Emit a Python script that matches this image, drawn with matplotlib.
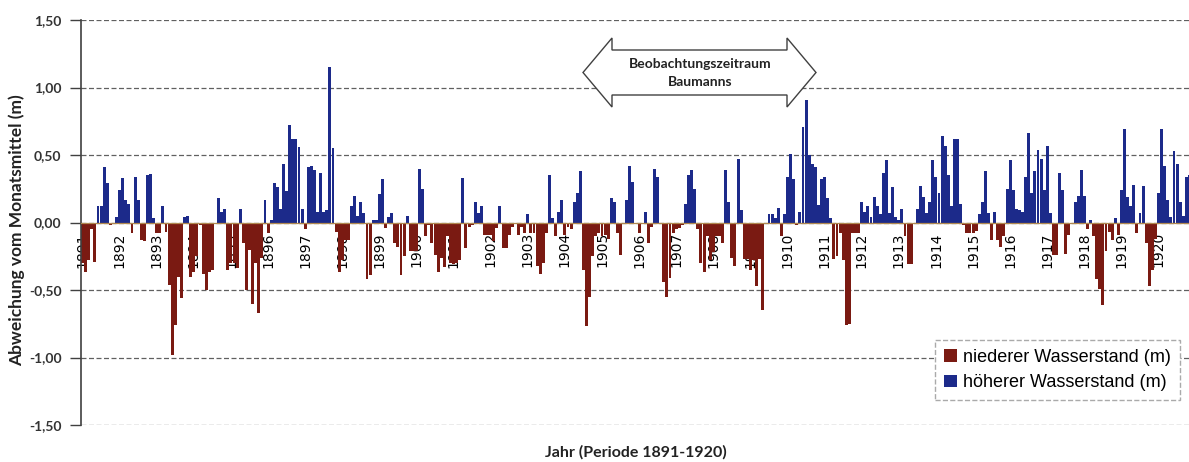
import numpy as np
import matplotlib.pyplot as plt
from matplotlib.patches import Polygon
from matplotlib.ticker import FuncFormatter

# monthly deviation from the monthly mean (m), Jan 1891 - Dec 1920
dev_1891_1900 = [
    -0.30, -0.37, -0.28, -0.05, -0.29, 0.12, 0.12, 0.41, 0.29, -0.02, 0.00, 0.04,
    0.24, 0.33, 0.17, 0.14, -0.08, 0.34, 0.17, -0.13, -0.14, 0.35, 0.36, 0.03,
    -0.08, -0.08, 0.12, -0.07, -0.46, -0.98, -0.76, -0.40, -0.56, 0.04, 0.05, -0.40,
    -0.37, -0.25, -0.02, -0.38, -0.50, -0.37, -0.35, 0.00, 0.18, 0.08, 0.10, -0.35,
    -0.30, -0.30, -0.34, 0.10, -0.15, -0.50, -0.20, -0.60, -0.30, -0.67, -0.26, 0.17,
    -0.08, 0.02, 0.29, 0.26, 0.10, 0.43, 0.23, 0.72, 0.62, 0.62, 0.56, 0.10,
    -0.05, 0.41, 0.42, 0.39, 0.08, 0.37, 0.08, 0.09, 1.15, 0.55, -0.07, -0.37,
    -0.28, -0.13, -0.13, 0.12, 0.20, 0.05, 0.15, 0.07, -0.42, -0.39, 0.02, 0.02,
    0.21, 0.32, -0.04, 0.04, 0.07, -0.15, -0.18, -0.39, -0.25, 0.05, -0.21, -0.21,
    -0.21, 0.40, 0.25, -0.10, -0.02, -0.15, -0.24, -0.37, -0.26, -0.33, -0.10, -0.30,
]
dev_1901_1910 = [
    -0.31, -0.30, -0.28, 0.33, -0.19, -0.03, -0.02, 0.15, 0.07, 0.12, -0.09, -0.09,
    -0.09, -0.14, -0.04, 0.12, -0.19, -0.19, -0.09, -0.03, -0.01, -0.09, -0.03, -0.08,
    0.06, -0.08, -0.08, -0.32, -0.38, -0.30, -0.08, 0.35, 0.03, -0.10, 0.08, 0.17,
    -0.09, -0.03, -0.05, 0.15, 0.22, 0.38, -0.35, -0.77, -0.55, -0.25, -0.10, -0.08,
    -0.10, -0.09, -0.12, 0.18, 0.15, -0.08, -0.24, -0.01, 0.17, 0.42, 0.30, 0.00,
    -0.08, 0.00, 0.08, -0.15, -0.03, 0.40, 0.34, 0.00, -0.44, -0.55, -0.41, -0.08,
    -0.05, -0.04, -0.02, 0.14, 0.35, 0.39, 0.25, -0.05, -0.30, -0.37, -0.10, -0.28,
    -0.22, -0.10, -0.10, -0.15, 0.39, 0.15, -0.26, -0.32, 0.47, 0.09, -0.27, -0.27,
    -0.35, -0.28, -0.47, -0.27, -0.65, 0.00, 0.06, 0.06, 0.03, 0.11, -0.10, 0.06,
    0.34, 0.51, 0.32, -0.02, 0.08, 0.71, 0.91, 0.50, 0.43, 0.41, 0.13, 0.32,
]
dev_1911_1920 = [
    0.34, 0.18, 0.03, -0.27, -0.25, -0.08, -0.28, -0.76, -0.75, -0.08, -0.08, -0.08,
    0.15, 0.08, 0.12, 0.04, 0.19, 0.12, 0.06, 0.37, 0.46, 0.07, 0.26, 0.04,
    0.02, 0.10, -0.10, -0.31, -0.31, 0.00, 0.10, 0.27, 0.19, 0.07, 0.15, 0.46,
    0.34, 0.22, 0.64, 0.57, 0.35, 0.12, 0.62, 0.62, 0.14, -0.02, -0.08, -0.08,
    -0.08, -0.06, 0.06, 0.15, 0.38, 0.07, -0.13, 0.08, -0.13, -0.18, -0.10, 0.25,
    0.46, 0.24, 0.10, 0.09, 0.08, 0.34, 0.66, 0.22, 0.38, 0.54, 0.47, 0.24,
    0.57, 0.07, -0.24, -0.24, 0.37, 0.24, -0.23, -0.09, 0.00, 0.15, 0.20, 0.39,
    0.20, -0.05, 0.02, -0.10, -0.42, -0.49, -0.61, -0.21, -0.07, -0.13, 0.03, -0.09,
    0.24, 0.69, 0.19, 0.12, 0.28, -0.08, 0.07, 0.27, -0.15, -0.47, -0.35, -0.12,
    0.22, 0.69, 0.42, 0.17, 0.04, 0.53, 0.43, 0.15, 0.05, 0.34, 0.35, -0.17,
]

years = list(range(1891, 1921))
y_ticks = [-1.5, -1.0, -0.5, 0.0, 0.5, 1.0, 1.5]
legend_labels = ["niederer Wasserstand (m)", "höherer Wasserstand (m)"]
arrow_text = "Beobachtungszeitraum\nBaumanns"

RED = "#7a1a12"
BLUE = "#1c2a8a"
BOLD_FONT = ["Lato", "DejaVu Sans"]
ARIAL = ["Liberation Sans", "DejaVu Sans"]

values = np.array(dev_1891_1900 + dev_1901_1910 + dev_1911_1920)
months = np.arange(len(values))
low = np.where(values < 0, values, 0.0)
high = np.where(values > 0, values, 0.0)

W, H = 1189, 462
px_month = 3.092
fig = plt.figure(figsize=(W / 100, H / 100), dpi=100)
ax = fig.add_axes([81 / W, 1 - 425 / H, 360 * px_month / W, 405 / H])

ax.bar(months, low, width=0.95, color=RED, label=legend_labels[0], zorder=2)
ax.bar(months, high, width=0.95, color=BLUE, label=legend_labels[1], zorder=2)

ax.set_xlim(-0.5, 359.5)
ax.set_ylim(-1.5, 1.5)

ax.set_yticks(y_ticks)
ax.yaxis.set_major_formatter(FuncFormatter(lambda v, _: f"{v:.2f}".replace(".", ",")))
ax.tick_params(axis="y", direction="out", length=8, width=1, color="#404040",
               labelsize=10, labelcolor="#333333", pad=6)
for lab in ax.get_yticklabels():
    lab.set_family(BOLD_FONT)
    lab.set_fontweight("bold")

ax.set_xticks(months[::12])
ax.set_xticklabels([str(y) for y in years], fontsize=10, family=ARIAL,
                   fontweight="bold", color="#111111")
ax.tick_params(axis="x", length=0, pad=7, labelrotation=90)

ax.yaxis.grid(True, linestyle=(0, (4, 2)), color="#606060", linewidth=0.9)
ax.set_axisbelow(True)

ax.spines["top"].set_visible(False)
ax.spines["right"].set_visible(False)
ax.spines["bottom"].set_position(("data", 0))
ax.spines["bottom"].set_color("#b08850")
ax.spines["bottom"].set_linewidth(0.9)
ax.spines["left"].set_color("#404040")
ax.spines["left"].set_linewidth(1.2)

leg = ax.legend(loc="upper left", bbox_to_anchor=(926 / W, 1 - 331 / H),
                bbox_transform=fig.transFigure, fancybox=False, framealpha=1,
                edgecolor="#aaaaaa", handlelength=0.7, handleheight=0.7,
                handletextpad=0.35, borderpad=0.5, labelspacing=0.45,
                prop={"family": ARIAL, "size": 13})
leg.get_frame().set_linestyle("--")
leg.set_zorder(5)

# double arrow marking Baumann's observation period
arrow_px = [(583, 72.5), (612, 38), (612, 50), (787, 50), (787, 38), (816, 72.5),
            (787, 107), (787, 95), (612, 95), (612, 107)]
arrow = Polygon([(x / W, 1 - y / H) for x, y in arrow_px], closed=True,
                transform=fig.transFigure, facecolor="white", edgecolor="#404040",
                linewidth=1.0, zorder=6)
fig.patches.append(arrow)
fig.text(700 / W, 1 - 73 / H, arrow_text, ha="center", va="center",
         fontsize=10, fontweight="bold", family=BOLD_FONT, color="#222222",
         linespacing=1.6, zorder=7)

fig.text(17 / W, 1 - 230 / H, "Abweichung vom Monatsmittel (m)", rotation=90,
         ha="center", va="center", fontsize=12.5, fontweight="bold",
         family=BOLD_FONT, color="#222222")
fig.text(636 / W, 1 - 452 / H, "Jahr (Periode 1891-1920)", ha="center",
         va="center", fontsize=11.5, fontweight="bold", family=BOLD_FONT,
         color="#222222")

fig.savefig("out.png", dpi=100)
